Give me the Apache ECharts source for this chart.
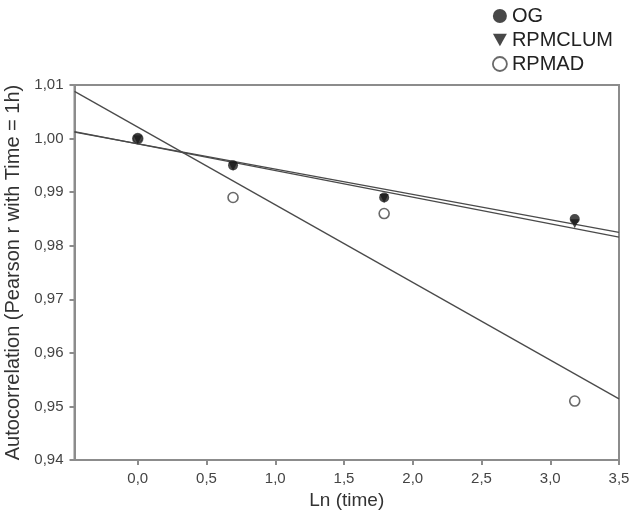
<!DOCTYPE html>
<html>
<head>
<meta charset="utf-8">
<script src="https://cdn.jsdelivr.net/npm/echarts@6.0.0/dist/echarts.min.js"></script>
<style>
  html, body { margin: 0; padding: 0; background: #fff; }
  #chart { width: 630px; height: 523px; }
</style>
</head>
<body>
<div id="chart"></div>
<script>
// Ln(time) for 1h, 2h, 6h, 24h
const lnTime = [0, 0.693, 1.792, 3.178]
const ogValues = [1.000, 0.995, 0.989, 0.985]
const rpmclumValues = [0.9998, 0.9948, 0.9888, 0.9841]
const rpmadValues = [1.000, 0.989, 0.986, 0.951]

// fitted lines, end points
const fitX = [-0.46, 3.5]
const ogFit = [1.0012, 0.9825]
const rpmclumFit = [1.0013, 0.9816]
const rpmadFit = [1.0088, 0.9514]

const xTicks = [0, 0.5, 1, 1.5, 2, 2.5, 3, 3.5]
const xTickLabels = ['0,0', '0,5', '1,0', '1,5', '2,0', '2,5', '3,0', '3,5']
const yTicks = [0.94, 0.95, 0.96, 0.97, 0.98, 0.99, 1.00, 1.01]
const yTickLabels = ['0,94', '0,95', '0,96', '0,97', '0,98', '0,99', '1,00', '1,01']

const pairs = (xs, ys) => xs.map((x, i) => [x, ys[i]])
const labelFor = (ticks, labels) => (v) => {
  const i = ticks.findIndex((t) => Math.abs(t - v) < 1e-6)
  return i < 0 ? '' : labels[i]
}

const tri = 'path://M0,0L10,0L5,9Z'
const axisGray = '#8c8c8c'
const lineGray = '#4a4a4a'

const chart = echarts.init(document.getElementById('chart'))
chart.setOption({
  backgroundColor: '#fff',
  animation: false,
  textStyle: { fontFamily: 'Liberation Sans, Arial, sans-serif' },
  grid: {
    left: 74.5, right: 11, top: 85, bottom: 63,
    outerBoundsMode: 'none',
    containLabel: false,
    show: true, borderColor: axisGray, borderWidth: 2
  },
  legend: {
    orient: 'vertical',
    left: 487, top: 1,
    itemWidth: 14, itemHeight: 14, itemGap: 4,
    textStyle: { fontSize: 20, lineHeight: 20, color: '#222' },
    data: [
      { name: 'OG', icon: 'circle', itemStyle: { color: '#1a1a1a', borderWidth: 0 } },
      { name: 'RPMCLUM', icon: tri, itemStyle: { color: '#1a1a1a', borderWidth: 0 } },
      { name: 'RPMAD', icon: 'circle', itemStyle: { color: '#fff', borderColor: '#444', borderWidth: 1.8 } }
    ]
  },
  xAxis: {
    type: 'value',
    min: fitX[0], max: 3.5,
    name: 'Ln (time)',
    nameLocation: 'middle',
    nameGap: 30,
    nameTextStyle: { fontSize: 19, color: '#333' },
    axisLine: { show: true, onZero: false, lineStyle: { color: axisGray, width: 2 } },
    axisTick: { show: true, length: 5, customValues: xTicks, lineStyle: { color: axisGray, width: 2 } },
    axisLabel: { customValues: xTicks, formatter: labelFor(xTicks, xTickLabels), fontSize: 15, color: '#444', margin: 11 },
    splitLine: { show: false }
  },
  yAxis: {
    type: 'value',
    min: 0.94, max: 1.01,
    name: 'Autocorrelation (Pearson r with Time = 1h)',
    nameLocation: 'middle',
    nameGap: 48,
    nameTextStyle: { fontSize: 20, color: '#333' },
    axisLine: { show: true, onZero: false, lineStyle: { color: axisGray, width: 2 } },
    axisTick: { show: true, length: 5, customValues: yTicks, lineStyle: { color: axisGray, width: 2 } },
    axisLabel: { customValues: yTicks, formatter: labelFor(yTicks, yTickLabels), fontSize: 15, color: '#444', margin: 11 },
    splitLine: { show: false }
  },
  series: [
    { name: 'fitOG', type: 'line', data: pairs(fitX, ogFit), symbol: 'none', lineStyle: { color: lineGray, width: 1.3 }, z: 1 },
    { name: 'fitRPMCLUM', type: 'line', data: pairs(fitX, rpmclumFit), symbol: 'none', lineStyle: { color: lineGray, width: 1.3 }, z: 1 },
    { name: 'fitRPMAD', type: 'line', data: pairs(fitX, rpmadFit), symbol: 'none', lineStyle: { color: lineGray, width: 1.3 }, z: 1 },
    {
      name: 'RPMAD', type: 'scatter', data: pairs(lnTime, rpmadValues), symbol: 'circle', symbolSize: 10,
      itemStyle: { color: '#fff', borderColor: '#444', borderWidth: 1.6 }, z: 2
    },
    {
      name: 'RPMCLUM', type: 'scatter', data: pairs(lnTime, rpmclumValues), symbol: tri, symbolSize: [9, 9],
      itemStyle: { color: '#1a1a1a' }, z: 3
    },
    {
      name: 'OG', type: 'scatter', data: pairs(lnTime, ogValues), symbol: 'circle', symbolSize: 10,
      itemStyle: { color: '#1a1a1a' }, z: 4
    }
  ]
})
</script>
</body>
</html>
